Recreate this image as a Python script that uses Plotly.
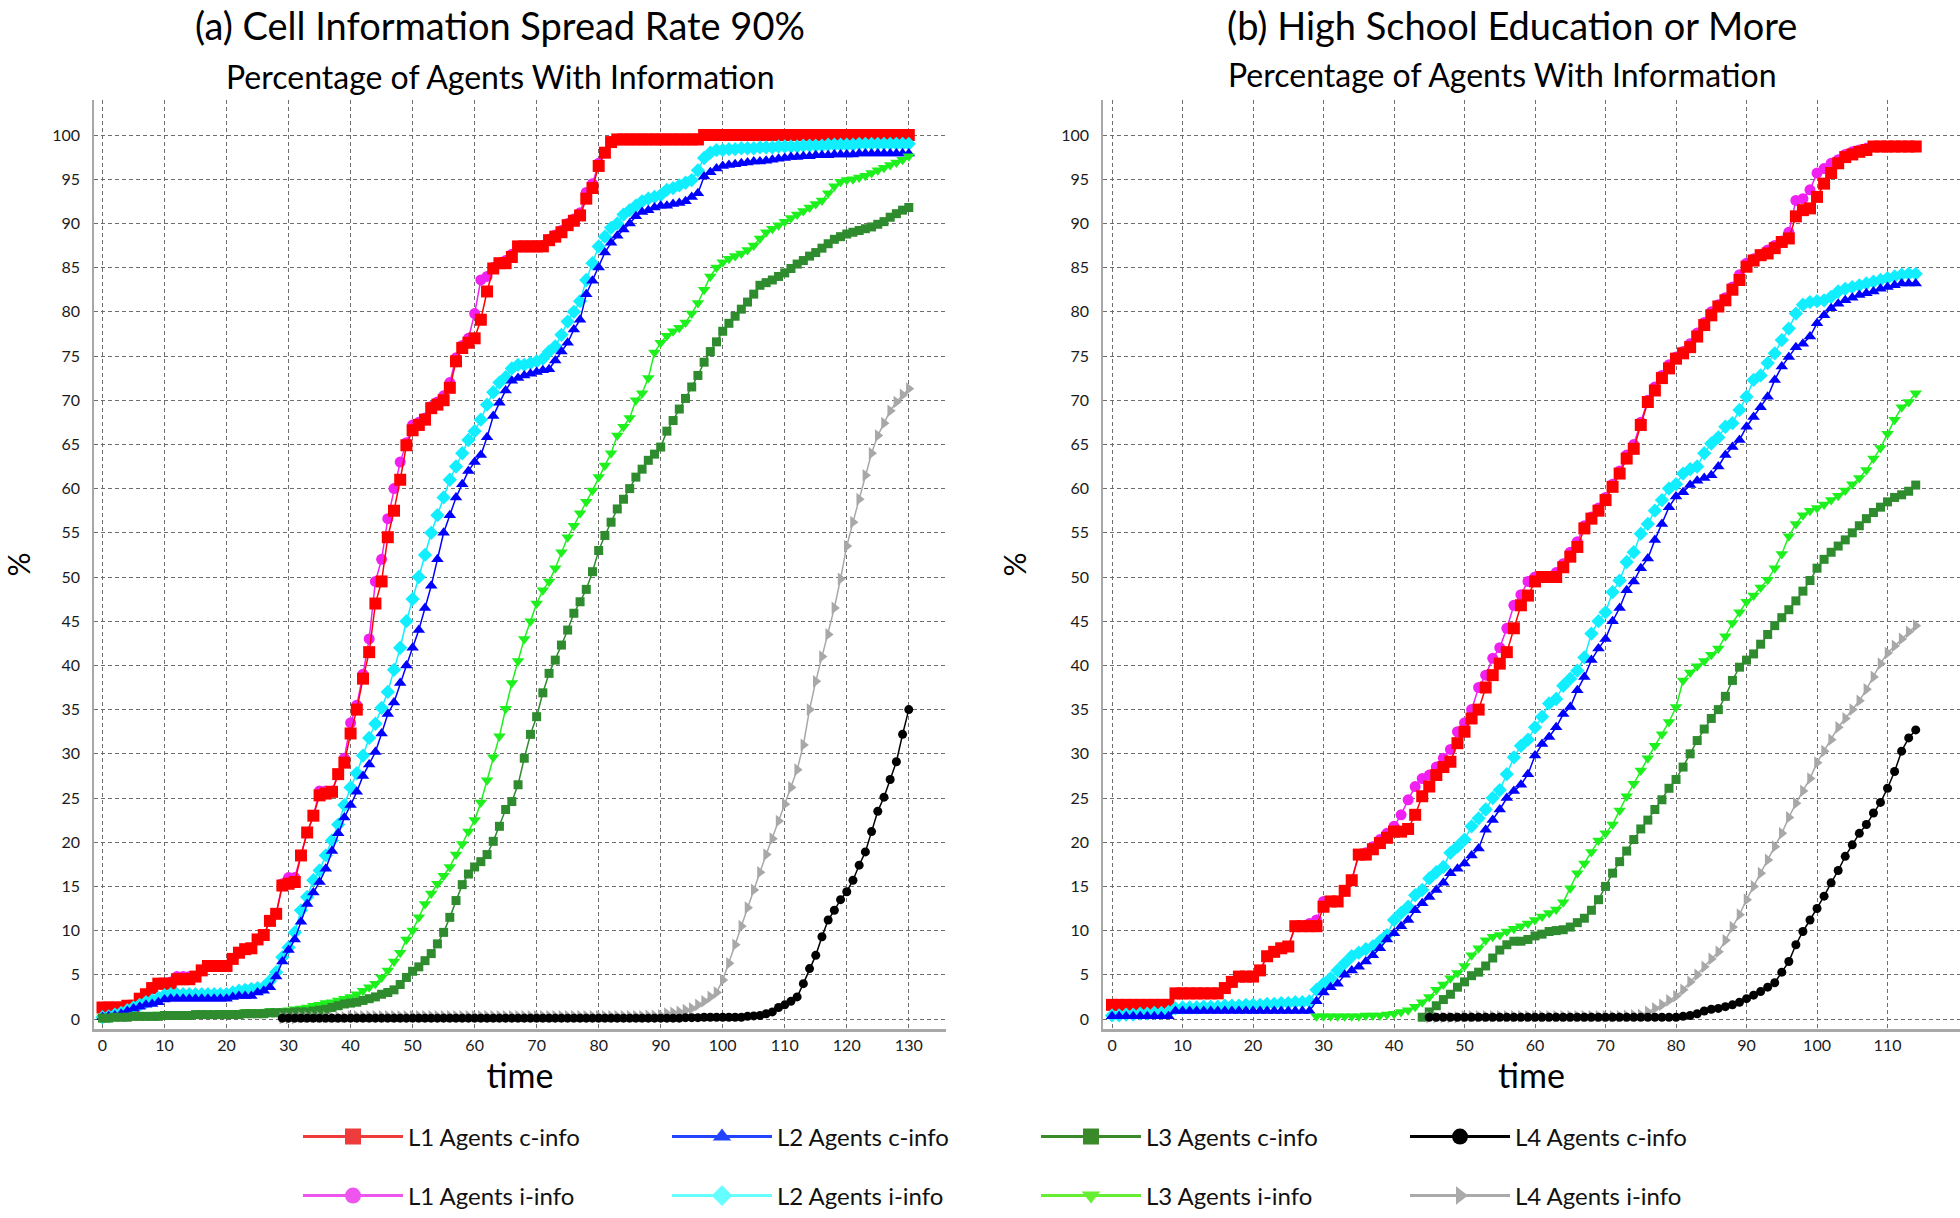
import plotly.graph_objects as go

FONT = "Lato"
W, H = 1960, 1218

# ---------------- Panel (a): Cell Information Spread Rate 90% (t = 0..130) -------------
A_L1C = [
    1.3, 1.3, 1.3, 1.3, 1.5, 1.5, 2.3, 2.8, 3.5, 4.0,
    4.0, 4.0, 4.5, 4.5, 4.5, 4.8, 5.5, 6.0, 6.0, 6.0,
    6.0, 6.8, 7.5, 7.9, 8.0, 9.0, 9.5, 11.1, 11.9, 15.1,
    15.3, 15.5, 18.5, 21.1, 23.0, 25.3, 25.5, 25.7, 27.7, 29.0,
    32.3, 35.0, 38.5, 41.5, 47.0, 49.5, 54.5, 57.5, 61.0, 64.9,
    66.6, 67.2, 67.8, 69.1, 69.5, 70.0, 71.4, 74.4, 75.9, 76.5,
    77.0, 79.1, 82.3, 84.9, 85.5, 85.5, 86.2, 87.4, 87.4, 87.4,
    87.4, 87.4, 88.1, 88.5, 89.0, 89.8, 90.3, 90.9, 92.8, 94.0,
    96.5, 98.0, 99.2, 99.5, 99.5, 99.5, 99.5, 99.5, 99.5, 99.5,
    99.5, 99.5, 99.5, 99.5, 99.5, 99.5, 99.5, 100, 100, 100,
    100, 100, 100, 100, 100, 100, 100, 100, 100, 100,
    100, 100, 100, 100, 100, 100, 100, 100, 100, 100,
    100, 100, 100, 100, 100, 100, 100, 100, 100, 100, 100,
]
A_L1I = [
    1.3, 1.3, 1.3, 1.3, 1.5, 1.5, 2.3, 2.8, 3.5, 4.0,
    4.0, 4.2, 4.8, 4.8, 4.8, 4.8, 5.5, 6.0, 6.0, 6.0,
    6.0, 6.8, 7.5, 7.9, 8.0, 9.0, 9.5, 11.1, 11.9, 15.3,
    16.0, 16.0, 18.5, 21.1, 23.0, 25.8, 25.8, 25.8, 27.7, 29.5,
    33.5, 35.5, 39.0, 43.0, 49.5, 52.0, 56.6, 60.0, 63.0, 65.2,
    67.2, 67.5, 68.0, 69.3, 69.8, 70.5, 72.0, 74.8, 76.2, 77.0,
    79.8, 83.6, 84.0, 85.0, 85.5, 85.8, 86.5, 87.4, 87.4, 87.4,
    87.4, 87.5, 88.2, 88.7, 89.2, 90.0, 90.5, 91.2, 93.5, 94.5,
    96.8, 98.0, 99.2, 99.5, 99.5, 99.5, 99.5, 99.5, 99.5, 99.5,
    99.5, 99.5, 99.5, 99.5, 99.5, 99.5, 99.5, 100, 100, 100,
    100, 100, 100, 100, 100, 100, 100, 100, 100, 100,
    100, 100, 100, 100, 100, 100, 100, 100, 100, 100,
    100, 100, 100, 100, 100, 100, 100, 100, 100, 100, 100,
]
A_L2C = [
    0.2, 0.3, 0.4, 0.6, 0.9, 1.2, 1.4, 1.6, 1.7, 1.9,
    2.2, 2.3, 2.3, 2.3, 2.3, 2.3, 2.3, 2.3, 2.3, 2.3,
    2.3, 2.5, 2.6, 2.6, 2.6, 3.0, 3.2, 3.6, 4.8, 6.5,
    7.8, 9.0, 11.0, 13.0, 14.3, 15.5, 17.0, 19.0, 21.0, 22.8,
    24.2, 25.7, 27.5, 28.8, 30.2, 32.3, 34.5, 35.8, 38.0, 40.0,
    42.0, 44.0, 46.5, 49.0, 52.0, 55.0, 57.0, 59.0, 60.5, 62.0,
    63.0, 63.8, 65.8, 68.2, 69.7, 71.1, 72.2, 72.5, 72.8, 73.0,
    73.2, 73.4, 73.5, 74.5, 75.5, 76.5, 78.0, 79.1, 82.0, 83.5,
    85.0, 86.7, 87.8, 88.6, 89.3, 90.0, 90.8, 91.3, 91.5, 91.8,
    92.0, 92.0, 92.2, 92.3, 92.5, 93.0, 93.4, 95.3, 95.8, 96.2,
    96.5, 96.6, 96.7, 96.8, 96.9, 97.0, 97.0, 97.1, 97.2, 97.3,
    97.4, 97.5, 97.5, 97.6, 97.6, 97.7, 97.7, 97.7, 97.8, 97.8,
    97.8, 97.8, 97.9, 97.9, 97.9, 97.9, 97.9, 97.9, 97.9, 97.9, 97.9,
]
A_L2I = [
    0.2, 0.3, 0.5, 0.7, 1.0, 1.3, 1.6, 1.9, 2.1, 2.4,
    2.7, 2.8, 2.8, 2.8, 2.8, 2.8, 2.8, 2.8, 2.8, 2.8,
    2.8, 3.0, 3.2, 3.3, 3.4, 3.5, 3.6, 4.3, 5.3, 7.0,
    8.1, 9.8, 12.3, 13.8, 15.7, 16.8, 18.5, 20.2, 22.0, 24.2,
    26.2, 27.8, 29.8, 31.8, 33.4, 35.2, 37.0, 39.5, 42.0, 45.0,
    47.5, 50.0, 52.5, 55.0, 57.0, 59.0, 61.0, 62.5, 64.0, 65.5,
    66.5, 67.8, 69.5, 70.9, 72.0, 72.6, 73.6, 74.0, 74.0, 74.2,
    74.4, 74.7, 75.5, 76.1, 77.4, 78.9, 80.0, 81.2, 83.6, 85.5,
    87.4, 88.5, 89.5, 90.0, 91.0, 91.5, 92.0, 92.5, 92.8, 93.0,
    93.2, 93.8, 94.0, 94.3, 94.6, 94.9, 96.0, 97.4, 98.0, 98.3,
    98.3, 98.4, 98.4, 98.5, 98.5, 98.5, 98.6, 98.6, 98.6, 98.7,
    98.7, 98.7, 98.7, 98.8, 98.8, 98.8, 98.8, 98.9, 98.9, 98.9,
    98.9, 98.9, 99.0, 99.0, 99.0, 99.0, 99.0, 99.0, 99.0, 99.0, 99.0,
]
A_L3C = [
    0.1, 0.1, 0.2, 0.2, 0.2, 0.3, 0.3, 0.3, 0.3, 0.3,
    0.4, 0.4, 0.4, 0.4, 0.4, 0.5, 0.5, 0.5, 0.5, 0.5,
    0.5, 0.5, 0.5, 0.6, 0.6, 0.6, 0.6, 0.7, 0.7, 0.7,
    0.7, 0.8, 0.8, 0.8, 0.9, 1.0, 1.1, 1.3, 1.5, 1.7,
    1.8, 1.9, 2.1, 2.3, 2.5, 2.8, 3.0, 3.3, 3.9, 4.7,
    5.4, 5.9, 6.6, 7.4, 8.5, 9.8, 11.5, 13.4, 15.2, 16.4,
    17.2, 17.8, 18.6, 20.1, 21.8, 23.7, 24.6, 26.5, 29.5, 32.2,
    34.2, 36.9, 39.1, 40.6, 42.3, 44.0, 45.9, 47.2, 48.6, 50.6,
    53.0, 54.7, 56.2, 57.7, 58.8, 60.0, 61.3, 62.2, 63.2, 63.9,
    64.7, 66.5, 67.7, 69.0, 70.2, 71.5, 72.8, 74.3, 75.5, 76.6,
    77.8, 78.7, 79.5, 80.3, 81.1, 82.0, 83.0, 83.3, 83.6, 84.0,
    84.4, 84.9, 85.4, 85.8, 86.3, 86.7, 87.2, 87.7, 88.2, 88.5,
    88.8, 89.0, 89.2, 89.4, 89.6, 89.9, 90.2, 90.7, 91.1, 91.5, 91.8,
]
A_L3I = [
    0.2, 0.2, 0.3, 0.3, 0.3, 0.4, 0.4, 0.4, 0.4, 0.5,
    0.5, 0.5, 0.5, 0.5, 0.6, 0.6, 0.6, 0.6, 0.6, 0.7,
    0.7, 0.7, 0.7, 0.8, 0.8, 0.8, 0.8, 0.9, 0.9, 0.9,
    1.0, 1.1, 1.2, 1.3, 1.5, 1.6, 1.8, 1.9, 2.1, 2.3,
    2.5, 2.8, 3.2, 3.6, 4.0, 4.7, 5.5, 6.5, 7.5, 9.0,
    10.0, 11.5, 13.0, 14.2, 15.3, 16.2, 17.2, 18.6, 19.8, 21.2,
    22.5, 24.5, 27.0, 29.6, 32.0, 35.1, 38.0, 40.5, 43.0, 45.0,
    47.0, 48.5, 49.5, 51.0, 52.8, 54.5, 55.8, 57.2, 58.5, 59.8,
    61.3, 62.6, 64.0, 66.0, 67.0, 68.0, 70.0, 70.8, 72.5, 75.4,
    76.5, 77.3, 77.8, 78.2, 78.8, 79.8, 81.0, 82.5, 84.0, 85.0,
    85.6, 86.0, 86.3, 86.6, 87.0, 87.5, 88.3, 89.0, 89.4, 89.8,
    90.2, 90.6, 91.0, 91.4, 91.8, 92.2, 92.6, 93.4, 94.2, 94.7,
    94.9, 95.0, 95.2, 95.4, 95.7, 96.0, 96.3, 96.6, 96.9, 97.2, 97.6,
]
A_L4_START = 29
A_L4C = [
    0.1, 0.1, 0.1, 0.1, 0.1, 0.1, 0.1, 0.1, 0.1, 0.1, 0.1,
    0.1, 0.1, 0.1, 0.1, 0.1, 0.1, 0.1, 0.1, 0.1, 0.1,
    0.1, 0.1, 0.1, 0.1, 0.1, 0.1, 0.1, 0.1, 0.1, 0.1,
    0.1, 0.1, 0.1, 0.1, 0.1, 0.1, 0.1, 0.1, 0.1, 0.1,
    0.1, 0.1, 0.1, 0.1, 0.1, 0.1, 0.1, 0.1, 0.1, 0.1,
    0.1, 0.1, 0.1, 0.1, 0.1, 0.1, 0.1, 0.1, 0.1, 0.1,
    0.1, 0.1, 0.1, 0.1, 0.15, 0.15, 0.15, 0.2, 0.2, 0.2,
    0.2, 0.2, 0.2, 0.2, 0.3, 0.35, 0.4, 0.6, 0.8, 1.3,
    1.6, 2.0, 2.5, 4.0, 5.7, 7.2, 9.3, 11.2, 12.3, 13.5,
    14.4, 15.7, 17.4, 18.9, 21.2, 23.5, 25.1, 27.1, 29.1, 32.2, 35.0,
]
A_L4I = [
    0.1, 0.1, 0.1, 0.2, 0.2, 0.2, 0.2, 0.2, 0.2, 0.2, 0.2,
    0.3, 0.3, 0.3, 0.3, 0.3, 0.3, 0.3, 0.3, 0.3, 0.3,
    0.3, 0.3, 0.3, 0.3, 0.3, 0.3, 0.3, 0.3, 0.3, 0.3,
    0.3, 0.3, 0.3, 0.3, 0.3, 0.3, 0.3, 0.3, 0.3, 0.3,
    0.3, 0.3, 0.3, 0.3, 0.3, 0.3, 0.3, 0.3, 0.3, 0.3,
    0.3, 0.3, 0.3, 0.3, 0.3, 0.3, 0.3, 0.3, 0.35, 0.35,
    0.4, 0.6, 0.7, 0.8, 1.0, 1.2, 1.6, 2.0, 2.5, 3.0,
    4.4, 6.3, 8.4, 10.5, 12.6, 14.6, 16.6, 18.6, 20.4, 22.4,
    24.3, 26.2, 28.2, 31.0, 35.0, 38.2, 41.0, 43.5, 46.5, 49.8,
    53.5, 56.2, 58.8, 61.5, 64.0, 66.0, 67.4, 68.8, 69.8, 70.6, 71.3,
]

# ---------------- Panel (b): High School Education or More (t = 0..114) ----------------
B_L1C = [
    1.6, 1.6, 1.6, 1.6, 1.6, 1.6, 1.6, 1.6, 1.6, 2.9,
    2.9, 2.9, 2.9, 2.9, 2.9, 2.9, 3.5, 4.2, 4.8, 4.8,
    4.8, 5.5, 7.1, 7.6, 8.0, 8.2, 10.5, 10.5, 10.5, 10.5,
    12.7, 13.3, 13.3, 14.5, 15.7, 18.6, 18.6, 19.2, 19.9, 20.5,
    21.2, 21.2, 21.5, 23.1, 25.2, 26.3, 27.6, 28.5, 29.1, 31.2,
    32.5, 34.0, 35.0, 37.5, 38.9, 40.2, 41.5, 44.2, 46.8, 47.9,
    49.5, 50.0, 50.0, 50.0, 51.1, 52.3, 53.4, 55.5, 56.6, 57.5,
    58.7, 60.2, 61.7, 63.4, 64.5, 67.2, 69.8, 71.1, 72.5, 73.6,
    74.7, 75.3, 76.0, 77.2, 78.5, 79.6, 80.6, 81.3, 82.5, 83.6,
    85.1, 85.8, 86.4, 86.6, 87.2, 87.9, 88.3, 90.8, 91.5, 91.7,
    93.0, 94.5, 95.7, 96.8, 97.5, 97.8, 98.1, 98.3, 98.7, 98.7,
    98.7, 98.7, 98.7, 98.7, 98.7,
]
B_L1I = [
    1.6, 1.6, 1.6, 1.6, 1.6, 1.6, 1.6, 1.6, 1.6, 2.9,
    2.9, 2.9, 2.9, 2.9, 2.9, 2.9, 3.5, 4.2, 4.8, 4.8,
    4.8, 5.5, 7.1, 7.6, 8.0, 8.2, 10.5, 10.5, 10.8, 11.2,
    13.3, 13.3, 13.3, 14.5, 15.7, 18.6, 18.8, 19.5, 20.3, 21.0,
    21.8, 23.1, 24.8, 26.3, 27.2, 27.6, 28.5, 29.5, 30.5, 32.5,
    33.5, 35.0, 37.5, 38.9, 40.8, 42.0, 44.2, 46.8, 48.0, 49.5,
    50.0, 50.0, 50.0, 50.5, 51.5, 52.8, 54.0, 55.8, 56.8, 57.8,
    59.0, 60.5, 62.0, 63.8, 65.0, 67.5, 70.0, 71.5, 72.8, 74.0,
    74.9, 75.5, 76.4, 77.6, 78.8, 80.0, 80.8, 81.6, 82.8, 84.2,
    85.5, 86.0, 86.5, 87.0, 87.5, 88.0, 89.0, 92.6, 92.8, 93.8,
    95.7, 96.2, 96.8, 97.2, 97.8, 98.1, 98.3, 98.5, 98.7, 98.7,
    98.7, 98.7, 98.7, 98.7, 98.7,
]
B_L2C = [
    0.3, 0.3, 0.3, 0.3, 0.3, 0.3, 0.3, 0.3, 0.3, 0.9,
    0.9, 0.9, 0.9, 0.9, 0.9, 0.9, 0.9, 0.9, 0.9, 0.9,
    0.9, 0.9, 0.9, 0.9, 0.9, 0.9, 0.9, 0.9, 0.9, 2.0,
    3.0, 3.6, 4.0, 5.0, 5.5, 5.9, 6.5, 7.2, 8.0, 9.0,
    9.7, 10.5, 11.2, 12.3, 13.1, 13.8, 14.6, 15.4, 16.5, 17.0,
    17.6, 18.5, 19.3, 21.4, 22.5, 23.7, 25.0, 25.8, 26.5, 27.7,
    29.8, 31.1, 31.9, 33.0, 34.5, 35.3, 37.2, 38.7, 40.6, 41.9,
    43.0, 45.0, 46.5, 48.5, 49.5, 51.0, 52.1, 54.2, 56.0, 57.9,
    59.1, 59.6, 60.4, 60.9, 61.2, 61.5, 62.5, 63.8, 64.7, 65.5,
    67.0, 68.1, 69.2, 70.4, 72.3, 73.8, 74.9, 76.0, 76.4, 77.2,
    78.7, 79.6, 80.4, 80.9, 81.3, 81.6, 81.9, 82.1, 82.3, 82.6,
    82.8, 83.0, 83.2, 83.2, 83.2,
]
B_L2I = [
    0.4, 0.4, 0.5, 0.5, 0.6, 0.6, 0.7, 0.7, 0.8, 1.2,
    1.3, 1.3, 1.3, 1.4, 1.4, 1.4, 1.5, 1.5, 1.5, 1.6,
    1.6, 1.6, 1.7, 1.7, 1.8, 1.8, 1.9, 1.9, 2.0, 3.3,
    4.0, 4.6, 5.5, 6.3, 7.1, 7.5, 7.9, 8.2, 8.8, 9.5,
    11.2, 12.0, 12.7, 14.0, 14.6, 15.9, 16.6, 17.2, 18.8, 19.5,
    20.3, 21.8, 22.7, 23.7, 25.0, 25.9, 27.7, 29.6, 30.9, 31.6,
    33.0, 34.2, 35.7, 36.2, 37.7, 38.5, 39.4, 40.9, 43.6, 45.0,
    46.0, 48.3, 49.6, 51.7, 52.8, 54.9, 56.0, 57.5, 58.7, 60.0,
    60.5, 61.7, 62.2, 62.5, 64.0, 65.1, 65.8, 67.0, 67.4, 68.9,
    70.4, 72.3, 72.8, 74.2, 75.3, 76.8, 78.1, 79.8, 80.8, 81.1,
    81.2, 81.3, 81.7, 82.3, 82.6, 82.8, 83.0, 83.2, 83.4, 83.6,
    83.8, 84.0, 84.2, 84.3, 84.3,
]
B_L3C_START = 44
B_L3C = [
    0.2, 0.8, 1.5, 2.2, 2.8,
    3.6, 4.2, 4.9, 5.3, 6.0, 6.9, 7.8, 8.4, 8.8, 8.8,
    9.0, 9.4, 9.6, 9.9, 10.0, 10.1, 10.4, 10.9, 11.4, 12.3,
    13.5, 15.0, 16.5, 17.8, 19.0, 20.3, 21.5, 22.5, 23.7, 24.8,
    26.1, 27.1, 28.5, 30.0, 31.5, 32.8, 34.0, 35.0, 36.5, 38.3,
    39.8, 40.6, 41.3, 42.4, 43.5, 44.5, 45.4, 46.3, 47.3, 48.4,
    49.6, 51.0, 52.0, 52.8, 53.5, 54.2, 55.0, 55.8, 56.6, 57.3,
    57.9, 58.5, 59.0, 59.3, 59.7, 60.4,
]
B_L3I_START = 29
B_L3I = [
    0.3, 0.3, 0.3, 0.3, 0.3, 0.3, 0.3, 0.4, 0.4, 0.4,
    0.5, 0.6, 0.8, 1.0, 1.4, 1.9, 2.5, 3.3, 3.9, 4.6,
    5.2, 6.0, 7.2, 8.0, 8.9, 9.3, 9.5, 9.9, 10.2, 10.5,
    10.8, 11.2, 11.6, 12.0, 12.4, 13.2, 14.8, 16.5, 17.6, 18.9,
    20.2, 21.0, 22.0, 23.6, 25.2, 26.6, 28.1, 29.5, 30.9, 32.2,
    33.6, 35.3, 38.3, 39.2, 39.9, 40.5, 41.2, 41.9, 43.3, 44.8,
    46.0, 47.2, 47.9, 48.8, 49.7, 51.0, 52.6, 54.6, 56.0, 57.0,
    57.5, 57.8, 58.2, 58.7, 59.2, 59.8, 60.5, 61.2, 62.1, 63.4,
    64.6, 66.2, 67.8, 69.2, 69.8, 70.8,
]
B_L4_START = 45
B_L4C = [
    0.2, 0.2, 0.2, 0.2, 0.2, 0.2, 0.2, 0.2, 0.2, 0.2,
    0.2, 0.2, 0.2, 0.2, 0.2, 0.2, 0.2, 0.2, 0.2, 0.2,
    0.2, 0.2, 0.2, 0.2, 0.2, 0.2, 0.2, 0.2, 0.2, 0.2,
    0.2, 0.2, 0.2, 0.2, 0.2, 0.2, 0.3, 0.4, 0.6, 0.9,
    1.1, 1.2, 1.4, 1.6, 1.9, 2.3, 2.7, 3.1, 3.6, 4.1,
    5.3, 6.5, 8.4, 9.9, 11.2, 12.5, 13.9, 15.4, 16.8, 18.4,
    19.7, 21.0, 22.0, 23.3, 24.5, 26.1, 28.0, 30.3, 31.8, 32.7,
]
B_L4I = [
    0.2, 0.2, 0.2, 0.2, 0.2, 0.3, 0.3, 0.3, 0.3, 0.3,
    0.3, 0.3, 0.3, 0.3, 0.3, 0.3, 0.3, 0.3, 0.3, 0.3,
    0.3, 0.3, 0.3, 0.3, 0.3, 0.3, 0.3, 0.3, 0.35, 0.4,
    0.45, 0.8, 1.2, 1.6, 2.1, 2.6, 3.3, 4.2, 5.0, 5.9,
    6.8, 7.6, 8.9, 10.4, 11.8, 13.5, 15.0, 16.5, 18.0, 19.5,
    21.0, 22.8, 24.4, 25.8, 27.2, 29.0, 30.3, 31.6, 33.0, 34.0,
    35.0, 36.0, 37.3, 38.7, 40.2, 41.4, 42.2, 43.0, 43.8, 44.5,
]

# ---------------- text ----------------
TITLE_A = "(a) Cell Information Spread Rate 90%"
TITLE_B = "(b) High School Education or More"
SUBTITLE = "Percentage of Agents With Information"
X_TITLE = "time"
Y_TITLE = "%"
X_TICKS_A = list(range(0, 131, 10))
X_TICKS_B = list(range(0, 111, 10))
Y_TICKS = list(range(0, 101, 5))

SERIES_NAMES = {
    "L1c": "L1 Agents c-info", "L1i": "L1 Agents i-info",
    "L2c": "L2 Agents c-info", "L2i": "L2 Agents i-info",
    "L3c": "L3 Agents c-info", "L3i": "L3 Agents i-info",
    "L4c": "L4 Agents c-info", "L4i": "L4 Agents i-info",
}

PANEL_A = {
    "L1c": (0, A_L1C), "L1i": (0, A_L1I),
    "L2c": (0, A_L2C), "L2i": (0, A_L2I),
    "L3c": (0, A_L3C), "L3i": (0, A_L3I),
    "L4c": (A_L4_START, A_L4C), "L4i": (A_L4_START, A_L4I),
}
PANEL_B = {
    "L1c": (0, B_L1C), "L1i": (0, B_L1I),
    "L2c": (0, B_L2C), "L2i": (0, B_L2I),
    "L3c": (B_L3C_START, B_L3C), "L3i": (B_L3I_START, B_L3I),
    "L4c": (B_L4_START, B_L4C), "L4i": (B_L4_START, B_L4I),
}

# ---------------- styles ----------------
STYLE = {
    "L1c": dict(color="#FF0000", symbol="square", size=12, legend="legend"),
    "L1i": dict(color="#F020F0", symbol="circle", size=11, legend="legend2"),
    "L2c": dict(color="#0000FF", symbol="triangle-up", size=11, legend="legend"),
    "L2i": dict(color="#10EEFF", symbol="diamond", size=11, legend="legend2"),
    "L3c": dict(color="#2E8B2E", symbol="square", size=9, legend="legend"),
    "L3i": dict(color="#1EF01E", symbol="triangle-down", size=11, legend="legend2"),
    "L4c": dict(color="#000000", symbol="circle", size=9, legend="legend"),
    "L4i": dict(color="#A8A8A8", symbol="triangle-right", size=11, legend="legend2"),
}
LEGEND_COLORS = {
    "L1c": "#EE3B3B", "L1i": "#EE55EE", "L2c": "#2244FF", "L2i": "#66FFFF",
    "L3c": "#3A8A2A", "L3i": "#66EE33", "L4c": "#000000", "L4i": "#AAAAAA",
}
DRAW_ORDER = ["L1i", "L1c", "L2i", "L2c", "L3i", "L3c", "L4i", "L4c"]

fig = go.Figure()
for data, xa, ya in [(PANEL_A, "x", "y"), (PANEL_B, "x2", "y2")]:
    for key in DRAW_ORDER:
        start, vals = data[key]
        st = STYLE[key]
        fig.add_trace(go.Scatter(
            x=list(range(start, start + len(vals))), y=vals,
            mode="lines+markers", name=SERIES_NAMES[key],
            line=dict(color=st["color"], width=1.5),
            marker=dict(symbol=st["symbol"], size=st["size"], color=st["color"]),
            xaxis=xa, yaxis=ya, showlegend=False, hoverinfo="skip",
        ))

# legend-only entries (no data points) so that legend symbols can be drawn larger
for key in DRAW_ORDER:
    st = STYLE[key]
    fig.add_trace(go.Scatter(
        x=[None], y=[None], mode="lines+markers", name=SERIES_NAMES[key],
        line=dict(color=LEGEND_COLORS[key], width=3),
        marker=dict(symbol=st["symbol"], size=16, color=LEGEND_COLORS[key]),
        xaxis="x", yaxis="y", showlegend=True, legend=st["legend"], hoverinfo="skip",
    ))

# ---------------- layout ----------------
ML, MR, MT, MB = 94, 0, 100, 189
PW = W - ML - MR
PH = H - MT - MB


def px_x(px):
    return (px - ML) / PW


def px_y(py):
    return (H - MB - py) / PH


GRID = dict(showgrid=True, gridcolor="#6e6e6e", griddash="4px,3px", gridwidth=1,
            zeroline=False, showline=True, linecolor="#a8a8a8", ticks="",
            tickfont=dict(family=FONT, size=16, color="#1a1a1a"))

fig.update_layout(
    xaxis=dict(GRID, domain=[0, px_x(946)], range=[-1.37, 136.0], tickvals=X_TICKS_A,
               linewidth=3, anchor="y", ticklabelstandoff=0,
               title=dict(text=X_TITLE, font=dict(family=FONT, size=34, color="#000"), standoff=10)),
    yaxis=dict(GRID, domain=[0, 1], range=[-1.13, 103.96], tickvals=Y_TICKS,
               linewidth=1.5, anchor="x", ticklabelstandoff=9,
               title=dict(text=Y_TITLE, font=dict(family=FONT, size=30, color="#000"), standoff=22)),
    xaxis2=dict(GRID, domain=[px_x(1103), 1], range=[-1.28, 120.28], tickvals=X_TICKS_B,
                linewidth=3, anchor="y2", ticklabelstandoff=0,
                title=dict(text=X_TITLE, font=dict(family=FONT, size=34, color="#000"), standoff=10)),
    yaxis2=dict(GRID, domain=[0, 1], range=[-1.13, 103.96], tickvals=Y_TICKS,
                linewidth=1.5, anchor="x2", ticklabelstandoff=9,
                title=dict(text=Y_TITLE, font=dict(family=FONT, size=30, color="#000"), standoff=26)),
    width=W, height=H,
    margin=dict(l=ML, r=MR, t=MT, b=MB, autoexpand=False),
    plot_bgcolor="white", paper_bgcolor="white",
    font=dict(family=FONT, color="#000"),
    showlegend=True,
)

LEG = dict(orientation="h", xanchor="left", yanchor="middle", x=px_x(298),
           entrywidth=254, entrywidthmode="pixels", itemwidth=100,
           font=dict(family=FONT, size=24, color="#111"),
           bgcolor="rgba(0,0,0,0)", borderwidth=0, itemclick=False, itemdoubleclick=False)
fig.update_layout(legend=dict(LEG, y=px_y(1137)), legend2=dict(LEG, y=px_y(1196)))

ANN = [
    (TITLE_A, 500, 0, 38, "top"),
    (TITLE_B, 1512, 0, 38, "top"),
    (SUBTITLE, 500, 76, 32, "middle"),
    (SUBTITLE, 1502, 74, 32, "middle"),
]
for text, x, y, size, yanc in ANN:
    fig.add_annotation(text=text, x=px_x(x), y=px_y(y), xref="paper", yref="paper",
                       xanchor="center", yanchor=yanc, showarrow=False,
                       font=dict(family=FONT, size=size, color="#000"))

fig.write_html("out.html", config={"displayModeBar": False},
               post_script="document.body.style.margin='0';")
